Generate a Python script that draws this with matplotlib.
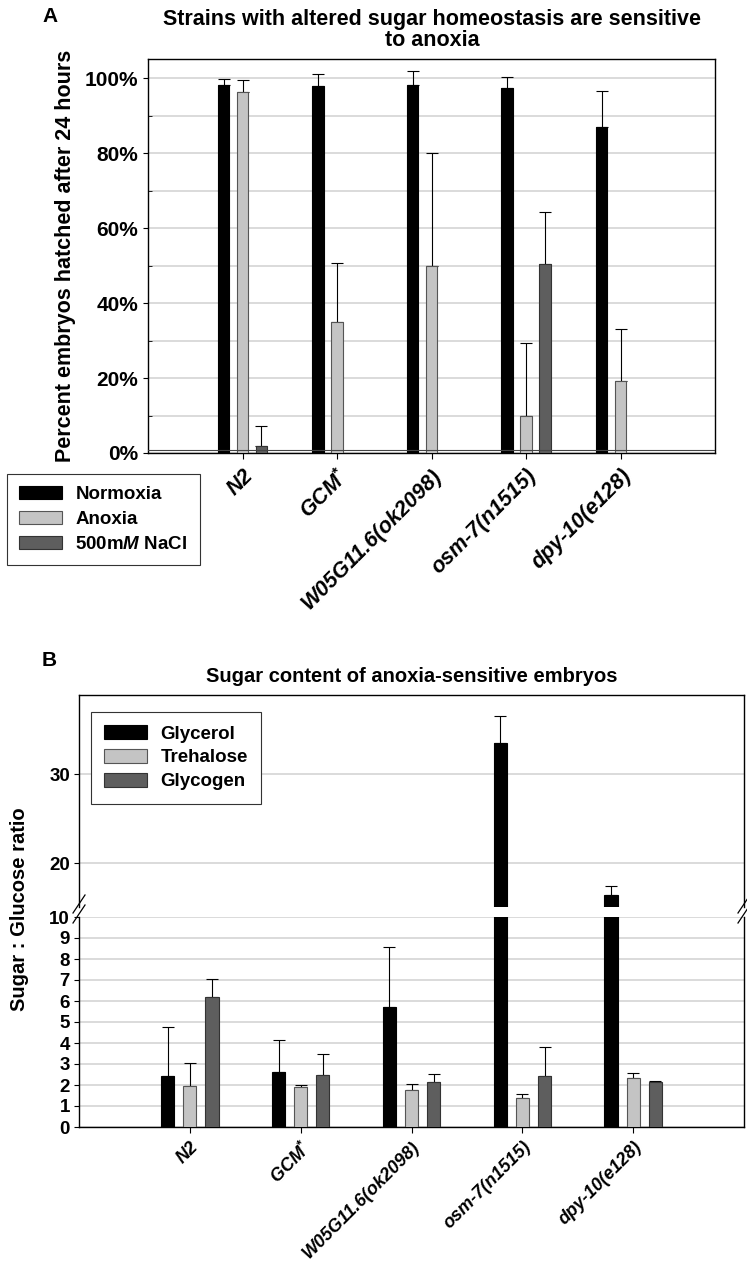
import numpy as np
import matplotlib
matplotlib.use('Agg')
import matplotlib.pyplot as plt
from matplotlib.patches import Patch

# ---- data ----
strains = ['N2', 'GCM$^{*}$', 'W05G11.6(ok2098)', 'osm-7(n1515)', 'dpy-10(e128)']

# panel A: percent hatched (mean, upward SD)
normoxia = [98.3, 98.0, 98.2, 97.4, 87.1]
normoxia_err = [1.5, 3.3, 3.9, 2.9, 9.5]
anoxia = [96.4, 34.9, 49.9, 10.0, 19.3]
anoxia_err = [3.2, 15.9, 30.3, 19.4, 13.7]
nacl = [1.8, np.nan, np.nan, 50.5, np.nan]
nacl_err = [5.3, np.nan, np.nan, 13.9, np.nan]

# panel B: sugar : glucose ratio
glycerol = [2.45, 2.6, 5.72, 33.5, 16.4]
glycerol_err = [2.29, 1.54, 2.84, 3.0, 1.1]
trehalose = [1.93, 1.9, 1.77, 1.36, 2.34]
trehalose_err = [1.12, 0.12, 0.28, 0.22, 0.23]
glycogen = [6.19, 2.5, 2.15, 2.45, 2.12]
glycogen_err = [0.87, 0.99, 0.36, 1.34, 0.08]

BLACK = '#000000'
LIGHT = '#c4c4c4'
DARK = '#5e5e5e'
GRID = '#d4d4d4'

plt.rcParams['font.family'] = ['Liberation Sans', 'DejaVu Sans']
plt.rcParams['font.weight'] = 'bold'
plt.rcParams['mathtext.fontset'] = 'custom'
plt.rcParams['mathtext.it'] = 'Liberation Sans:italic:bold'
plt.rcParams['mathtext.rm'] = 'Liberation Sans:bold'
plt.rcParams['mathtext.bf'] = 'Liberation Sans:bold'

W, H = 747, 1264
fig = plt.figure(figsize=(W / 100, H / 100), dpi=100)


def box(l, t, r, b):
    return [l / W, 1 - b / H, (r - l) / W, (b - t) / H]


x = np.arange(len(strains))
off = 0.2
bw = 0.12


def bars(ax, vals, errs, colors, edges, cap):
    for i, (v, e) in enumerate(zip(vals, errs)):
        pos = x + (i - 1) * off
        v = np.asarray(v, float)
        e = np.asarray(e, float)
        ax.bar(pos, v, bw, color=colors[i], edgecolor=edges[i], linewidth=0.8, zorder=3)
        ok = ~np.isnan(v)
        ax.errorbar(pos[ok], v[ok], yerr=[np.zeros(ok.sum()), e[ok]], fmt='none',
                    ecolor='black', elinewidth=0.8, capsize=cap, capthick=0.8, zorder=2)


# ---------------- panel A ----------------
axA = fig.add_axes(box(148, 59, 715, 453))
bars(axA, [normoxia, anoxia, nacl], [normoxia_err, anoxia_err, nacl_err],
     [BLACK, LIGHT, DARK], ['black', '#555555', '#333333'], 4)
axA.set_xlim(-1, 5)
axA.set_ylim(0, 105.2)
axA.set_yticks(np.arange(0, 101, 20))
axA.set_yticklabels(['%d%%' % v for v in range(0, 101, 20)], fontsize=15, fontweight='bold')
axA.set_yticks(np.arange(0, 101, 10), minor=True)
axA.yaxis.grid(True, which='both', color=GRID, linewidth=1.2, zorder=0)
axA.axhline(0.8, color='#444444', linewidth=0.8, zorder=4)
axA.set_axisbelow(True)
axA.set_xticks(x)
axA.set_xticklabels(strains, rotation=45, ha='right', rotation_mode='anchor',
                    fontsize=15.5, fontstyle='italic', fontweight='bold')
axA.tick_params(axis='x', length=4, pad=5)
axA.tick_params(axis='y', which='minor', length=3, direction='in')
axA.set_ylabel('Percent embryos hatched after 24 hours', fontsize=15.5, fontweight='bold', labelpad=6)
fig.text(432 / W, 1 - 30 / H, 'Strains with altered sugar homeostasis are sensitive\nto anoxia',
         fontsize=15.5, fontweight='bold', ha='center', va='center', linespacing=1.0)
for s in axA.spines.values():
    s.set_linewidth(1.0)
fig.text(42 / W, 1 - 17 / H, 'A', fontsize=15, fontweight='bold', va='center')

handlesA = [Patch(facecolor=BLACK, edgecolor='black', linewidth=0.8, label='Normoxia'),
            Patch(facecolor=LIGHT, edgecolor='#555555', linewidth=0.8, label='Anoxia'),
            Patch(facecolor=DARK, edgecolor='#333333', linewidth=0.8, label='500m$\\mathit{M}$ NaCl')]
legA = fig.legend(handles=handlesA, loc='upper left', bbox_to_anchor=(7 / W, 1 - 474 / H),
                  fancybox=False, edgecolor='#333333', framealpha=1, fontsize=13.5,
                  handlelength=2.3, handleheight=0.65, borderpad=0.65, labelspacing=0.42,
                  handletextpad=0.7, borderaxespad=0)
legA.get_frame().set_linewidth(0.8)

# ---------------- panel B ----------------
axBt = fig.add_axes(box(79, 695, 744, 907))
axBb = fig.add_axes(box(79, 917, 744, 1127))
for ax in (axBt, axBb):
    bars(ax, [glycerol, trehalose, glycogen], [glycerol_err, trehalose_err, glycogen_err],
         [BLACK, LIGHT, DARK], ['black', '#555555', '#333333'], 4.5)
    ax.set_xlim(-1, 5)
    ax.yaxis.grid(True, color=GRID, linewidth=1.2, zorder=0)
    ax.set_axisbelow(True)
    for s in ax.spines.values():
        s.set_linewidth(1.0)

axBt.set_ylim(15.1, 38.9)
axBt.set_yticks([20, 30])
axBt.set_xticks([])
axBt.spines['bottom'].set_visible(False)
axBb.set_ylim(0, 10)
axBb.set_yticks(np.arange(0, 11, 1))
axBb.spines['top'].set_visible(False)
for ax in (axBt, axBb):
    ax.tick_params(axis='y', labelsize=13.5, pad=3)
axBb.set_xticks(x)
axBb.set_xticklabels(strains, rotation=45, ha='right', rotation_mode='anchor',
                     fontsize=13, fontstyle='italic', fontweight='bold')
axBb.tick_params(axis='x', length=4, pad=4)

# break marks
kw = dict(color='black', linewidth=0.9, clip_on=False, transform=fig.transFigure)
for xb in (79, 744):
    for yb in (904, 914):
        fig.add_artist(plt.Line2D([(xb - 6) / W, (xb + 6) / W], [1 - (yb + 9) / H, 1 - (yb - 9) / H], **kw))

axBt.set_title('Sugar content of anoxia-sensitive embryos', fontsize=14.5,
               fontweight='bold', pad=9)
fig.text(20 / W, 1 - 909 / H, 'Sugar : Glucose ratio', rotation=90, fontsize=14.5,
         fontweight='bold', va='center', ha='center')
fig.text(42 / W, 1 - 660 / H, 'B', fontsize=15, fontweight='bold', va='center')

handlesB = [Patch(facecolor=BLACK, edgecolor='black', linewidth=0.8, label='Glycerol'),
            Patch(facecolor=LIGHT, edgecolor='#555555', linewidth=0.8, label='Trehalose'),
            Patch(facecolor=DARK, edgecolor='#333333', linewidth=0.8, label='Glycogen')]
legB = axBt.legend(handles=handlesB, loc='upper left', bbox_to_anchor=(91 / W, 1 - 712 / H),
                   bbox_transform=fig.transFigure, fancybox=False, edgecolor='#333333',
                   framealpha=1, prop={'size': 13.5, 'weight': 'bold'},
                   handlelength=2.3, handleheight=0.75, borderpad=0.7, labelspacing=0.35,
                   handletextpad=0.7, borderaxespad=0)
legB.get_frame().set_linewidth(0.8)

fig.savefig('out.png', dpi=100)
